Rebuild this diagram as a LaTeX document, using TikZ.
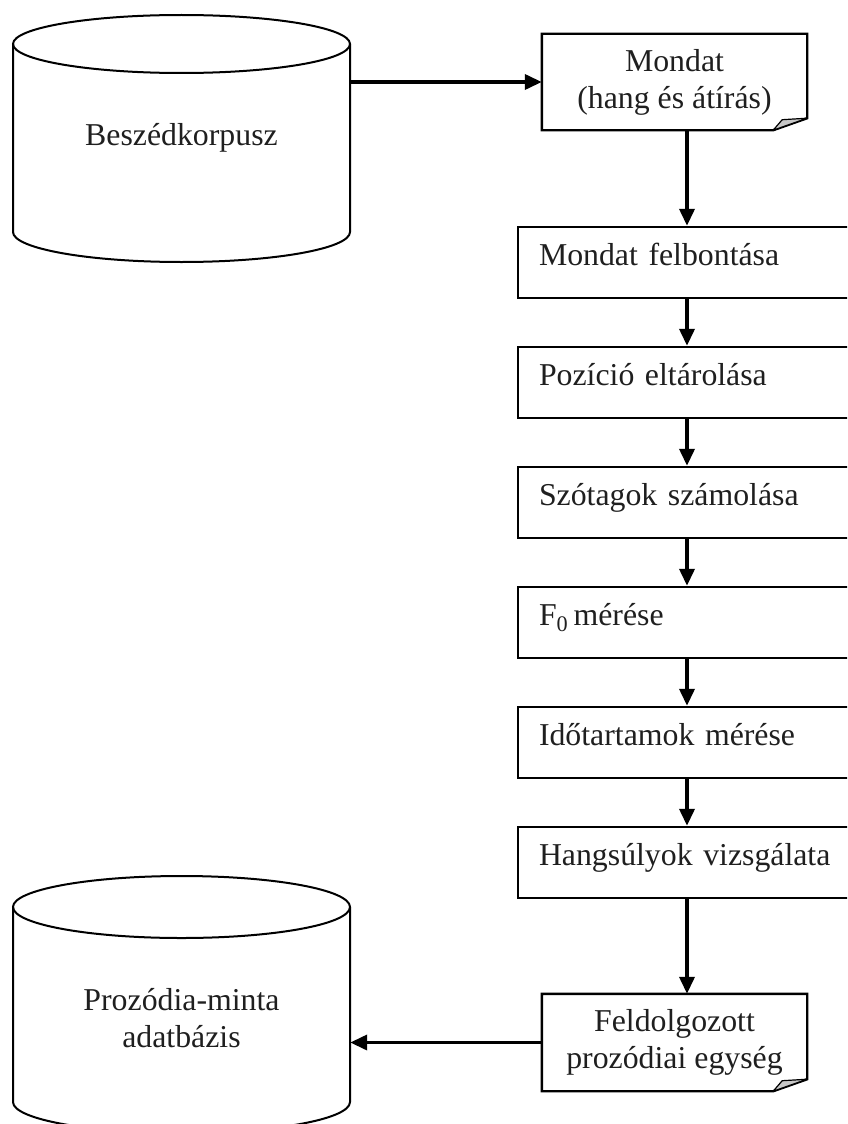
\documentclass[tikz,border=0pt]{standalone}
\usepackage{fontspec}
\setmainfont{Liberation Serif}
\usetikzlibrary{arrows.meta}

\begin{document}
\begin{tikzpicture}[x=1pt,y=-1pt,
  txt/.style={font=\fontsize{31.8}{37}\selectfont, text=black!88},
  flow/.style={line width=3.6pt, -{Triangle[length=17pt,width=15pt]}},
  stepbox/.style={txt, draw, line width=2.4pt, minimum width=338pt, minimum height=71pt,
    text width=296pt, inner xsep=21pt, inner ysep=0pt, align=left,
    text height=14pt, text depth=8pt},
  docbox/.style={txt, minimum width=265pt, minimum height=96pt, inner sep=0pt, align=center},
  docline/.style={line width=2.4pt, line join=miter},
  fold/.style={fill=black!22, draw, line width=1.2pt, line join=round},
  cylbody/.style={txt, minimum width=337pt, inner sep=0pt, align=center},
  cylline/.style={line width=2pt}
]
\useasboundingbox (0,0) rectangle (847,1124);
\clip (0,0) rectangle (847,1124);

% source corpus (cylinder)
\node[cylbody, minimum height=188pt] (corpus) at (181.5,138) {Beszédkorpusz};
\draw[cylline] (181.5,44) ellipse [x radius=168.5, y radius=29];
\draw[cylline] (13,44) -- (13,232)
  arc[start angle=180, end angle=0, x radius=168.5, y radius=30] -- (350,44);

% target database (cylinder, running past the lower edge)
\node[cylbody, minimum height=222pt] (patterns) at (181.5,1018) {Prozódia-minta\\adatbázis};
\draw[cylline] (181.5,907) ellipse [x radius=168.5, y radius=31];
\draw[cylline] (13,907) -- (13,1102)
  arc[start angle=180, end angle=0, x radius=168.5, y radius=31] -- (350,907);

% input document
\node[docbox] (mondat) at (674.5,82) {Mondat\\(hang és átírás)};
\draw[docline] (mondat.north west) -- (mondat.north east)
  -- ([yshift=12pt]mondat.south east) -- ([xshift=-34pt]mondat.south east)
  -- (mondat.south west) -- cycle;
\draw[fold] ([xshift=-34pt]mondat.south east) -- ([xshift=-25pt,yshift=10.5pt]mondat.south east)
  -- ([yshift=12pt]mondat.south east) -- cycle;

% processing steps
\node[stepbox] (s1) at (687,262.5) {Mondat felbontása};
\node[stepbox] (s2) at (687,382.5) {Pozíció eltárolása};
\node[stepbox] (s3) at (687,502.5) {Szótagok számolása};
\node[stepbox] (s4) at (687,622.5) {F\textsubscript{0}\,mérése};
\node[stepbox] (s5) at (687,742.5) {Időtartamok mérése};
\node[stepbox] (s6) at (687,862.5) {Hangsúlyok vizsgálata};

% output document
\node[docbox, minimum height=97pt] (feld) at (674.5,1042.5) {Feldolgozott\\prozódiai egység};
\draw[docline] (feld.north west) -- (feld.north east)
  -- ([yshift=12pt]feld.south east) -- ([xshift=-34pt]feld.south east)
  -- (feld.south west) -- cycle;
\draw[fold] ([xshift=-34pt]feld.south east) -- ([xshift=-25pt,yshift=10.5pt]feld.south east)
  -- ([yshift=12pt]feld.south east) -- cycle;

% connectors
\draw[flow] (corpus.east |- mondat.west) -- (mondat.west);
\draw[flow] (mondat.south -| s1.north) -- (s1.north);
\draw[flow] (s1.south) -- (s2.north);
\draw[flow] (s2.south) -- (s3.north);
\draw[flow] (s3.south) -- (s4.north);
\draw[flow] (s4.south) -- (s5.north);
\draw[flow] (s5.south) -- (s6.north);
\draw[flow] (s6.south) -- (s6.south |- feld.north);
\draw[flow] (feld.west) -- (patterns.east |- feld.west);
\end{tikzpicture}
\end{document}
